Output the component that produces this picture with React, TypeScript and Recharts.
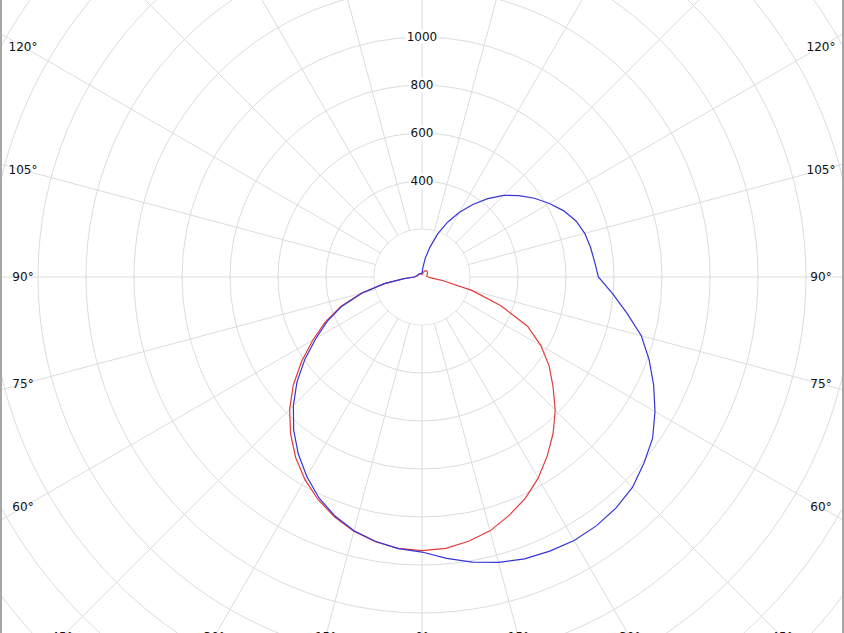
import React from "react";
import {
  RadarChart,
  Radar,
  PolarGrid,
  PolarAngleAxis,
  PolarRadiusAxis,
  Customized,
} from "recharts";

// gamma angle, measured from nadir (0°) round through the right side (90°) to the top (180°) and back down the left
const gammaAngles = [
  0, 5, 10, 15, 20, 25, 30, 35, 40, 45, 50, 55, 60, 65, 70, 75, 80, 85,
  90, 95, 100, 105, 110, 115, 120, 125, 130, 135, 140, 145, 150, 155, 160, 165,
  170, 175, 180, 185, 190, 195, 200, 205, 210, 215, 220, 225, 230, 235, 240, 245,
  250, 255, 260, 265, 270, 275, 280, 285, 290, 295, 300, 305, 310, 315, 320, 325,
  330, 335, 340, 345, 350, 355,
];

// cd/klm, red curve
const redCurve = [
  1140, 1135, 1118, 1095, 1058, 1018, 968, 910, 850, 785, 713, 647, 572, 485, 350, 215, 90, 38,
  25, 22, 20, 20, 22, 24, 26, 28, 30, 31, 32, 31, 30, 28, 24, 20,
  15, 12, 10, 12, 14, 15, 15, 15, 15, 15, 16, 16, 17, 17, 18, 18,
  20, 20, 22, 25, 32, 72, 158, 262, 360, 445, 525, 612, 700, 780, 852, 918,
  975, 1024, 1064, 1097, 1120, 1135,
];

// cd/klm, blue curve
const blueCurve = [
  1146, 1177, 1206, 1231, 1250, 1260, 1268, 1266, 1257, 1240, 1207, 1173, 1121, 1065, 1007, 946, 867, 797,
  735, 722, 713, 702, 683, 652, 613, 572, 528, 481, 426, 369, 310, 252, 191, 129,
  81, 38, 15, 15, 15, 15, 15, 15, 16, 16, 17, 17, 18, 18, 18, 20,
  20, 22, 25, 28, 32, 75, 160, 258, 355, 435, 510, 595, 680, 758, 832, 899,
  960, 1016, 1060, 1095, 1118, 1136,
];

const angleTicks = [
  0, 15, 30, 45, 60, 75, 90, 105, 120, 135, 150, 165, 180, 195, 210, 225, 240,
  255, 270, 285, 300, 315, 330, 345,
];
const radiusTicks = [200, 400, 600, 800, 1000, 1200, 1400, 1600, 1800, 2000, 2200, 2400];
const labelledRadii = [400, 600, 800, 1000];

const data = gammaAngles.map((angle, i) => ({
  angle,
  red: redCurve[i],
  blue: blueCurve[i],
}));

const W = 844;
const H = 633;
const CX = 422;
const CY = 277;
const R_MAX = 2400;
const OUTER = 576;
const FONT = "'DejaVu Sans', Verdana, sans-serif";

// angle labels sit on their spoke, pushed out to the frame of the plot
function AngleLabel(props: any) {
  const { x, y, payload } = props;
  const dx = x - CX;
  const dy = y - CY;
  const len = Math.hypot(dx, dy) || 1;
  const ux = dx / len;
  const uy = dy / len;
  const tx = Math.abs(ux) > 1e-6 ? 399 / Math.abs(ux) : Infinity;
  const ty = Math.abs(uy) > 1e-6 ? 360 / Math.abs(uy) : Infinity;
  const t = Math.min(tx, ty);
  const v = payload.value > 180 ? 360 - payload.value : payload.value;
  return (
    <text
      x={CX + ux * t}
      y={CY + uy * t}
      textAnchor="middle"
      dominantBaseline="central"
      fontFamily={FONT}
      fontSize={12}
      fill="#111"
    >
      {v}°
    </text>
  );
}

function RadiusLabel(props: any) {
  const { x, y, payload } = props;
  if (!labelledRadii.includes(payload.value)) return <g />;
  const w = String(payload.value).length * 7.6 + 3;
  return (
    <g>
      <rect x={x - w / 2} y={y - 7} width={w} height={14} fill="#fff" />
      <text
        x={x}
        y={y}
        textAnchor="middle"
        dominantBaseline="central"
        fontFamily={FONT}
        fontSize={12}
        fill="#111"
      >
        {payload.value}
      </text>
    </g>
  );
}

// blanks the spokes inside the first ring
function InnerMask() {
  const r = (radiusTicks[0] / R_MAX) * OUTER - 0.5;
  return <circle cx={CX} cy={CY} r={r} fill="#fff" />;
}

export default function App() {
  return (
    <div
      style={{
        position: "absolute",
        left: 0,
        top: 0,
        width: W,
        height: H,
        overflow: "hidden",
        background: "#fff",
      }}
    >
      <RadarChart
        width={W}
        height={H}
        data={data}
        cx={CX}
        cy={CY}
        outerRadius={OUTER}
        startAngle={-90}
        endAngle={270}
        margin={{ top: 0, right: 0, bottom: 0, left: 0 }}
      >
        <PolarGrid gridType="circle" stroke="#dcdcdc" strokeWidth={1} />
        <Customized component={InnerMask} />
        <PolarAngleAxis
          dataKey="angle"
          type="number"
          domain={[0, 360]}
          ticks={angleTicks}
          allowDataOverflow
          axisLine={false}
          tickLine={false}
          tick={AngleLabel}
        />
        <PolarRadiusAxis
          angle={90}
          type="number"
          domain={[0, R_MAX]}
          ticks={radiusTicks}
          allowDataOverflow
          axisLine={false}
          tickLine={false}
          tick={RadiusLabel}
        />
        <Radar
          dataKey="red"
          stroke="#e33b3b"
          strokeWidth={1.2}
          fill="none"
          fillOpacity={0}
          dot={false}
          isAnimationActive={false}
        />
        <Radar
          dataKey="blue"
          stroke="#3535d8"
          strokeWidth={1.2}
          fill="none"
          fillOpacity={0}
          dot={false}
          isAnimationActive={false}
        />
      </RadarChart>
      <div style={{ position: "absolute", left: 0, top: 0, width: 2, height: H, background: "#a6a6a6" }} />
      <div style={{ position: "absolute", right: 0, top: 0, width: 2, height: H, background: "#a6a6a6" }} />
    </div>
  );
}
